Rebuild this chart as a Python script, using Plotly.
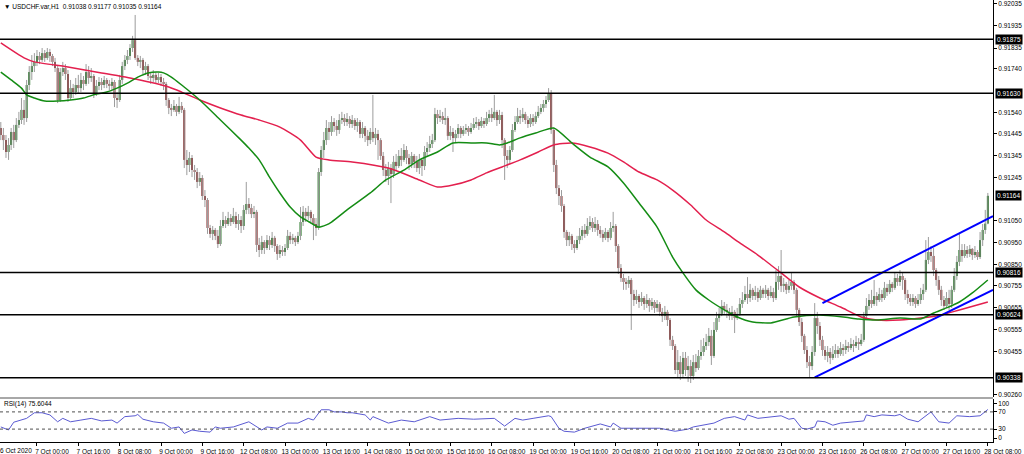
import plotly.graph_objects as go

POINT = 0.00001  # prices below are in MT4 points (1 point = 0.00001)

# ---------------- USDCHF H1 candles (bar 0 = 6 Oct 10:00, bar 382 = 28 Oct 08:00) ----------------
first_open_pts = 91472
close_pts = [
    91440, 91417, 91363, 91395, 91454, 91417, 91486, 91508, 91554, 91517,
    91667, 91726, 91753, 91772, 91799, 91781, 91812, 91790, 91817, 91799,
    91772, 91744, 91599, 91726, 91744, 91717, 91608, 91653, 91635, 91667,
    91653, 91690, 91672, 91726, 91699, 91708, 91626, 91663, 91681, 91667,
    91690, 91672, 91663, 91681, 91608, 91599, 91690, 91753, 91781, 91799,
    91835, 91871, 91790, 91772, 91781, 91735, 91753, 91708, 91699, 91713,
    91690, 91703, 91681, 91672, 91599, 91563, 91554, 91572, 91545, 91572,
    91554, 91327, 91304, 91336, 91281, 91272, 91227, 91245, 91163, 91145,
    91018, 90991, 91009, 90982, 90945, 91027, 91054, 91036, 91063, 91045,
    91072, 91036, 91054, 91027, 91100, 91127, 91109, 91081, 91091, 90941,
    90918, 90954, 90927, 90963, 90941, 90973, 90936, 90900, 90918, 90909,
    90927, 90982, 90963, 90973, 90954, 90982, 91045, 91091, 91072, 91091,
    91063, 91036, 91018, 91272, 91372, 91417, 91472, 91454, 91499, 91481,
    91463, 91508, 91517, 91499, 91513, 91490, 91508, 91481, 91499, 91445,
    91472, 91436, 91417, 91454, 91426, 91445, 91417, 91345, 91281, 91254,
    91290, 91263, 91318, 91299, 91345, 91327, 91372, 91336, 91308, 91345,
    91318, 91290, 91327, 91299, 91363, 91381, 91399, 91417, 91535, 91517,
    91526, 91508, 91517, 91436, 91454, 91426, 91445, 91472, 91445, 91463,
    91472, 91454, 91472, 91490, 91499, 91481, 91504, 91490, 91517, 91535,
    91517, 91545, 91508, 91531, 91417, 91345, 91327, 91372, 91463, 91499,
    91526, 91517, 91535, 91508, 91490, 91517, 91499, 91526, 91545, 91563,
    91581, 91599, 91631, 91463, 91304, 91199, 91163, 91118, 91000, 90963,
    90982, 90945, 90927, 90963, 90982, 91009, 90991, 91027, 91045, 91018,
    91036, 91009, 90991, 90973, 91000, 90973, 91018, 91027, 90936, 90836,
    90791, 90773, 90764, 90782, 90718, 90691, 90709, 90682, 90700, 90673,
    90691, 90664, 90682, 90655, 90673, 90637, 90618, 90637, 90600, 90510,
    90482, 90373, 90409, 90355, 90428, 90373, 90391, 90346, 90409, 90382,
    90437, 90455, 90482, 90500, 90528, 90437, 90555, 90609, 90628, 90664,
    90646, 90637, 90618, 90637, 90609, 90628, 90673, 90691, 90718, 90700,
    90737, 90709, 90727, 90700, 90737, 90718, 90737, 90709, 90727, 90700,
    90773, 90800, 90755, 90764, 90737, 90755, 90773, 90737, 90646, 90591,
    90528, 90464, 90409, 90391, 90455, 90609, 90573, 90510, 90464, 90437,
    90455, 90428, 90446, 90464, 90446, 90473, 90464, 90482, 90473, 90491,
    90482, 90500, 90491, 90510, 90618, 90664, 90691, 90673, 90709, 90691,
    90718, 90700, 90746, 90727, 90764, 90746, 90791, 90773, 90800, 90782,
    90718, 90700, 90682, 90700, 90673, 90691, 90718, 90737, 90873, 90909,
    90891, 90827, 90782, 90737, 90691, 90664, 90700, 90673, 90737, 90800,
    90864, 90918, 90891, 90918, 90900, 90923, 90895, 90909, 90886, 90963,
    91009, 91038, 91164,
]
high_pts = [
    91499, 91472, 91440, 91426, 91472, 91486, 91517, 91545, 91608, 91599,
    91690, 91753, 91803, 91812, 91826, 91817, 91835, 91826, 91835, 91831,
    91808, 91790, 91758, 91744, 91772, 91762, 91735, 91690, 91672, 91699,
    91713, 91722, 91708, 91762, 91753, 91744, 91717, 91690, 91703, 91699,
    91708, 91699, 91690, 91699, 91690, 91635, 91713, 91772, 91803, 91826,
    91853, 91890, 91985, 91803, 91799, 91790, 91772, 91762, 91726, 91735,
    91726, 91722, 91717, 91699, 91681, 91608, 91581, 91599, 91581, 91613,
    91590, 91563, 91372, 91363, 91349, 91304, 91290, 91272, 91258, 91190,
    91154, 91032, 91027, 91018, 91009, 91054, 91091, 91072, 91091, 91081,
    91109, 91091, 91081, 91072, 91122, 91227, 91154, 91127, 91118, 91100,
    90973, 90982, 90963, 90986, 90982, 91000, 90982, 90945, 90941, 90936,
    90945, 91009, 91000, 90991, 90982, 91000, 91113, 91118, 91109, 91118,
    91100, 91081, 91063, 91290, 91390, 91454, 91508, 91499, 91526, 91517,
    91508, 91535, 91545, 91535, 91540, 91526, 91531, 91517, 91517, 91508,
    91499, 91481, 91463, 91472, 91622, 91472, 91463, 91426, 91363, 91308,
    91318, 91308, 91345, 91354, 91372, 91381, 91399, 91390, 91354, 91363,
    91354, 91345, 91354, 91336, 91390, 91408, 91436, 91445, 91563, 91554,
    91554, 91545, 91563, 91526, 91481, 91472, 91463, 91490, 91481, 91481,
    91490, 91481, 91495, 91517, 91522, 91513, 91522, 91517, 91545, 91554,
    91563, 91622, 91554, 91554, 91545, 91426, 91372, 91390, 91490, 91526,
    91563, 91554, 91563, 91545, 91526, 91535, 91535, 91545, 91572, 91581,
    91599, 91617, 91653, 91644, 91472, 91327, 91213, 91190, 91127, 91009,
    91000, 90991, 90963, 90982, 91018, 91027, 91036, 91063, 91072, 91063,
    91068, 91054, 91027, 91009, 91018, 91009, 91045, 91091, 91036, 90945,
    90854, 90809, 90791, 90800, 90791, 90737, 90737, 90718, 90727, 90709,
    90718, 90700, 90700, 90691, 90691, 90682, 90655, 90664, 90646, 90609,
    90528, 90491, 90464, 90437, 90455, 90455, 90437, 90419, 90441, 90446,
    90464, 90510, 90518, 90537, 90564, 90555, 90591, 90637, 90655, 90691,
    90682, 90673, 90655, 90664, 90646, 90655, 90700, 90727, 90755, 90795,
    90764, 90746, 90755, 90746, 90755, 90746, 90759, 90746, 90755, 90746,
    90827, 90845, 90918, 90791, 90773, 90782, 90814, 90782, 90746, 90655,
    90609, 90537, 90482, 90437, 90482, 90677, 90637, 90591, 90528, 90482,
    90482, 90473, 90482, 90491, 90482, 90500, 90491, 90510, 90500, 90518,
    90510, 90528, 90518, 90537, 90637, 90700, 90718, 90737, 90782, 90727,
    90746, 90737, 90773, 90764, 90782, 90773, 90818, 90809, 90827, 90818,
    90791, 90737, 90718, 90718, 90709, 90718, 90746, 90764, 90963, 90977,
    90936, 90927, 90836, 90800, 90755, 90709, 90727, 90737, 90755, 90836,
    90891, 90995, 90945, 90945, 90936, 90941, 90927, 90936, 90918, 91000,
    91036, 91100, 91177,
]
low_pts = [
    91417, 91372, 91336, 91327, 91372, 91381, 91408, 91472, 91490, 91486,
    91499, 91644, 91690, 91726, 91753, 91762, 91772, 91772, 91781, 91772,
    91753, 91726, 91585, 91590, 91708, 91690, 91590, 91599, 91608, 91622,
    91631, 91635, 91644, 91663, 91672, 91681, 91608, 91617, 91644, 91644,
    91653, 91653, 91644, 91644, 91567, 91563, 91590, 91672, 91735, 91762,
    91781, 91817, 91781, 91753, 91744, 91717, 91713, 91690, 91672, 91681,
    91672, 91676, 91663, 91644, 91572, 91535, 91526, 91545, 91526, 91535,
    91540, 91290, 91258, 91272, 91249, 91236, 91199, 91209, 91145, 91113,
    90991, 90973, 90963, 90963, 90927, 90936, 91018, 91018, 91027, 91027,
    91036, 91018, 91009, 90995, 91009, 91081, 91081, 91063, 91063, 90909,
    90886, 90900, 90900, 90918, 90918, 90927, 90909, 90873, 90882, 90891,
    90891, 90918, 90945, 90945, 90936, 90945, 90963, 91027, 91045, 91054,
    91036, 90963, 90982, 91009, 91254, 91336, 91395, 91417, 91436, 91454,
    91436, 91445, 91490, 91481, 91481, 91472, 91472, 91463, 91454, 91426,
    91426, 91408, 91390, 91399, 91408, 91395, 91327, 91327, 91254, 91227,
    91213, 91131, 91245, 91281, 91290, 91299, 91318, 91308, 91281, 91290,
    91290, 91272, 91263, 91254, 91281, 91345, 91363, 91381, 91408, 91490,
    91499, 91490, 91486, 91417, 91417, 91363, 91408, 91426, 91426, 91436,
    91445, 91436, 91445, 91463, 91472, 91463, 91472, 91472, 91481, 91499,
    91499, 91508, 91481, 91490, 91381, 91236, 91290, 91308, 91363, 91454,
    91490, 91490, 91499, 91490, 91472, 91476, 91481, 91490, 91517, 91535,
    91545, 91563, 91590, 91445, 91272, 91172, 91122, 91091, 90973, 90936,
    90936, 90918, 90904, 90918, 90945, 90963, 90973, 90982, 91009, 91000,
    91000, 90982, 90973, 90954, 90963, 90954, 90963, 91000, 90909, 90809,
    90773, 90737, 90737, 90746, 90555, 90664, 90673, 90655, 90664, 90646,
    90655, 90637, 90646, 90632, 90637, 90618, 90591, 90600, 90573, 90482,
    90464, 90355, 90337, 90328, 90337, 90346, 90319, 90314, 90328, 90364,
    90373, 90419, 90437, 90464, 90482, 90396, 90428, 90546, 90591, 90618,
    90628, 90609, 90600, 90600, 90541, 90600, 90618, 90655, 90682, 90673,
    90682, 90691, 90691, 90682, 90691, 90700, 90700, 90691, 90700, 90682,
    90691, 90737, 90727, 90727, 90718, 90723, 90737, 90718, 90618, 90573,
    90500, 90446, 90382, 90341, 90373, 90437, 90537, 90482, 90437, 90419,
    90409, 90400, 90419, 90428, 90428, 90437, 90437, 90446, 90455, 90464,
    90455, 90473, 90464, 90482, 90500, 90609, 90646, 90655, 90664, 90664,
    90682, 90682, 90691, 90709, 90718, 90727, 90737, 90755, 90755, 90737,
    90691, 90673, 90664, 90664, 90655, 90664, 90673, 90691, 90727, 90854,
    90864, 90800, 90755, 90714, 90664, 90646, 90655, 90646, 90655, 90727,
    90782, 90845, 90864, 90882, 90882, 90886, 90873, 90882, 90873, 90877,
    90936, 90991, 91035,
]

# moving averages: (bar index, price)
ma_green_points = [
    (0, 0.91726), (4, 0.91690), (8, 0.91653), (10, 0.91622), (13, 0.91608), (17, 0.91594),
    (22, 0.91594), (27, 0.91599), (32, 0.91608), (37, 0.91626), (41, 0.91635), (45, 0.91653),
    (49, 0.91676), (53, 0.91703), (57, 0.91722), (61, 0.91726), (63, 0.91722), (66, 0.91703),
    (70, 0.91667), (77, 0.91599), (85, 0.91508), (93, 0.91417), (96, 0.91381), (100, 0.91327),
    (104, 0.91249), (108, 0.91177), (112, 0.91113), (116, 0.91068), (120, 0.91041), (123, 0.91022),
    (126, 0.91032), (128, 0.91045), (134, 0.91100), (143, 0.91177), (149, 0.91236), (156, 0.91281),
    (162, 0.91327), (169, 0.91363), (175, 0.91404), (182, 0.91404), (188, 0.91404), (193, 0.91395),
    (196, 0.91404), (201, 0.91427), (207, 0.91449), (214, 0.91472), (221, 0.91404), (228, 0.91340),
    (235, 0.91295), (241, 0.91222), (247, 0.91131), (254, 0.91022), (260, 0.90886), (264, 0.90814),
    (269, 0.90737), (274, 0.90691), (280, 0.90646), (285, 0.90614), (291, 0.90591), (298, 0.90587),
    (307, 0.90614), (317, 0.90623), (326, 0.90614), (332, 0.90605), (339, 0.90600), (348, 0.90609),
    (356, 0.90605), (361, 0.90632), (366, 0.90655), (371, 0.90682), (376, 0.90723), (382, 0.90782),
]
ma_red_points = [
    (0, 0.91858), (9, 0.91790), (13, 0.91772), (26, 0.91749), (39, 0.91722), (52, 0.91694),
    (65, 0.91658), (70, 0.91635), (77, 0.91599), (85, 0.91563), (93, 0.91531), (100, 0.91508),
    (108, 0.91476), (116, 0.91417), (122, 0.91340), (127, 0.91327), (136, 0.91318), (150, 0.91290),
    (162, 0.91236), (169, 0.91204), (175, 0.91213), (182, 0.91236), (188, 0.91268), (194, 0.91295),
    (201, 0.91327), (208, 0.91363), (214, 0.91395), (221, 0.91404), (228, 0.91386), (235, 0.91358),
    (241, 0.91318), (247, 0.91272), (254, 0.91236), (260, 0.91190), (267, 0.91122), (273, 0.91054),
    (280, 0.91000), (286, 0.90950), (293, 0.90895), (298, 0.90850), (302, 0.90814), (309, 0.90750),
    (317, 0.90700), (325, 0.90659), (333, 0.90614), (339, 0.90600), (348, 0.90600), (356, 0.90609),
    (364, 0.90623), (371, 0.90646), (382, 0.90682),
]

# RSI(14) readings: (bar index, value)
rsi_points = [
    (0, 35), (3, 28), (5, 46), (8, 51), (10, 55), (13, 68), (16, 68), (19, 63), (22, 47), (24, 55),
    (27, 47), (31, 51), (35, 55), (39, 49), (43, 51), (45, 44), (48, 59), (52, 61), (53, 64), (55, 53),
    (59, 47), (63, 44), (66, 32), (69, 35), (71, 20), (74, 28), (77, 25), (81, 23), (83, 35), (85, 32),
    (90, 35), (96, 47), (98, 39), (101, 28), (103, 35), (107, 32), (111, 44), (115, 44), (119, 55),
    (121, 51), (124, 75), (127, 75), (129, 70), (132, 70), (134, 68), (136, 68), (141, 63), (143, 51),
    (144, 59), (150, 44), (155, 51), (160, 47), (166, 59), (170, 51), (177, 55), (183, 53), (191, 55),
    (195, 37), (199, 55), (202, 51), (206, 55), (212, 61), (213, 59), (216, 32), (218, 25), (222, 23),
    (226, 32), (232, 42), (236, 35), (237, 44), (240, 32), (245, 32), (250, 32), (255, 32), (261, 25),
    (266, 30), (268, 35), (272, 39), (276, 44), (280, 55), (284, 59), (288, 51), (289, 63), (293, 55),
    (298, 59), (302, 61), (305, 53), (307, 55), (310, 32), (312, 30), (315, 35), (316, 49), (319, 47),
    (322, 39), (325, 44), (330, 47), (334, 49), (335, 63), (338, 59), (341, 63), (346, 61), (348, 64),
    (351, 53), (355, 47), (360, 70), (363, 47), (367, 44), (370, 61), (375, 59), (379, 61), (382, 75.6044),
]

# horizontal support / resistance levels and rising channel
level_prices = [0.91875, 0.91630, 0.90816, 0.90624, 0.90338]
last_price = 0.91164
channel_upper = [(318, 0.90677), (384, 0.91072)]
channel_lower = [(315, 0.90340), (384, 0.90737)]

price_ticks = [0.92035, 0.91935, 0.91835, 0.91740, 0.91540, 0.91445, 0.91345, 0.91245,
               0.91050, 0.90950, 0.90850, 0.90755, 0.90655, 0.90555, 0.90455, 0.90260]
first_time_label = "6 Oct 2020"
time_tick_bars = [14, 30, 46, 62, 78, 94, 110, 126, 142, 158, 174, 190, 206, 222, 238,
                  254, 270, 286, 302, 318, 334, 350, 366, 382]
time_tick_text = ["7 Oct 00:00", "7 Oct 16:00", "8 Oct 08:00", "9 Oct 00:00",
                  "9 Oct 16:00", "12 Oct 08:00", "13 Oct 00:00", "13 Oct 16:00", "14 Oct 08:00",
                  "15 Oct 00:00", "15 Oct 16:00", "16 Oct 08:00", "19 Oct 00:00", "19 Oct 16:00",
                  "20 Oct 08:00", "21 Oct 00:00", "21 Oct 16:00", "22 Oct 08:00", "23 Oct 00:00",
                  "23 Oct 16:00", "26 Oct 08:00", "27 Oct 00:00", "27 Oct 16:00", "28 Oct 08:00"]

# ---------------- build ----------------
n = min(len(close_pts), len(high_pts), len(low_pts))
closes = [c * POINT for c in close_pts[:n]]
opens = [first_open_pts * POINT] + closes[:-1]
highs = [max(h * POINT, o, c) for h, o, c in zip(high_pts[:n], opens, closes)]
lows = [min(l * POINT, o, c) for l, o, c in zip(low_pts[:n], opens, closes)]
bars = list(range(n))

FONT = "Liberation Sans, Arial, sans-serif"
fig = go.Figure()

# wicks
wx, wy = [], []
for i in bars:
    wx += [i, i, None]
    wy += [lows[i], highs[i], None]
fig.add_trace(go.Scatter(x=wx, y=wy, mode="lines", line=dict(color="#9c9c9c", width=1),
                         hoverinfo="skip", showlegend=False))

# bodies
bull = [i for i in bars if closes[i] > opens[i]]
bear = [i for i in bars if closes[i] <= opens[i]]
fig.add_trace(go.Bar(x=bull, base=[opens[i] for i in bull],
                     y=[closes[i] - opens[i] for i in bull], width=0.75,
                     marker=dict(color="#0b650b", line=dict(width=0)), showlegend=False))
fig.add_trace(go.Bar(x=bear, base=[closes[i] for i in bear],
                     y=[max(opens[i] - closes[i], 0.000015) for i in bear], width=0.75,
                     marker=dict(color="#7d1414", line=dict(width=0)), showlegend=False))

# moving averages
fig.add_trace(go.Scatter(x=[p[0] for p in ma_red_points], y=[p[1] for p in ma_red_points],
                         mode="lines", line=dict(color="#e3204e", width=1.5, shape="spline", smoothing=0.6),
                         showlegend=False))
fig.add_trace(go.Scatter(x=[p[0] for p in ma_green_points], y=[p[1] for p in ma_green_points],
                         mode="lines", line=dict(color="#148c14", width=1.5, shape="spline", smoothing=0.6),
                         showlegend=False))

# channel
for ch in (channel_upper, channel_lower):
    fig.add_trace(go.Scatter(x=[p[0] for p in ch], y=[p[1] for p in ch], mode="lines",
                             line=dict(color="#0000ff", width=2), showlegend=False))

# RSI
fig.add_trace(go.Scatter(x=[p[0] for p in rsi_points], y=[p[1] for p in rsi_points],
                         mode="lines", line=dict(color="#5a5ad2", width=1), yaxis="y2",
                         showlegend=False))

H = 454
PLOT_H = 442
main_bottom = (PLOT_H - 397) / PLOT_H
rsi_top = (PLOT_H - 399) / PLOT_H

shapes = []
for lv in level_prices:
    shapes.append(dict(type="line", xref="paper", x0=0, x1=1, yref="y", y0=lv, y1=lv,
                       line=dict(color="#000000", width=1.5)))
for lv in (70, 30):
    shapes.append(dict(type="line", xref="paper", x0=0, x1=1, yref="y2", y0=lv, y1=lv,
                       line=dict(color="#505050", width=1, dash="dot")))
shapes.append(dict(type="line", xref="paper", x0=0, x1=1, yref="paper",
                   y0=(main_bottom + rsi_top) / 2, y1=(main_bottom + rsi_top) / 2,
                   line=dict(color="#a8a8a8", width=2)))

annotations = [
    dict(text="\u25bc USDCHF.var,H1  0.91038 0.91177 0.91035 0.91164", xref="paper", yref="paper",
         x=0.002, y=1, xanchor="left", yanchor="top", yshift=-1, showarrow=False,
         font=dict(family=FONT, size=6.5, color="#000000")),
    dict(text="RSI(14) 75.6044", xref="paper", yref="y2", x=0.002, y=88, xanchor="left",
         yanchor="middle", showarrow=False, font=dict(family=FONT, size=6.5, color="#000000")),
    dict(text=first_time_label, xref="paper", yref="paper", x=0, y=0, xanchor="left",
         yanchor="top", xshift=-2, yshift=-3, showarrow=False,
         font=dict(family=FONT, size=6.5, color="#000000")),
]
for lv in level_prices + [last_price]:
    annotations.append(dict(text="%.5f" % lv, xref="paper", yref="y", x=1, y=lv, xanchor="left",
                            yanchor="middle", xshift=2, showarrow=False, bgcolor="#000000",
                            borderpad=1, font=dict(family=FONT, size=6.5, color="#ffffff")))

fig.update_layout(
    width=1024, height=H,
    margin=dict(l=0, r=31, t=0, b=H - PLOT_H),
    paper_bgcolor="#ffffff", plot_bgcolor="#ffffff",
    barmode="overlay", hovermode=False, showlegend=False,
    font=dict(family=FONT, size=6.5, color="#000000"),
    xaxis=dict(domain=[0, 1], anchor="y2", range=[-0.31, 384.0], showgrid=False, zeroline=False,
               tickmode="array", tickvals=time_tick_bars, ticktext=time_tick_text,
               ticks="outside", ticklen=3, tickcolor="#000000", ticklabelshift=15,
               tickfont=dict(family=FONT, size=6.5), showline=True, linecolor="#000000",
               linewidth=1),
    yaxis=dict(domain=[main_bottom, 1], side="right", range=[0.902506, 0.92053],
               showgrid=False, zeroline=False, tickmode="array", tickvals=price_ticks,
               ticktext=["%.5f" % v for v in price_ticks], ticks="outside", ticklen=3,
               tickcolor="#000000", tickfont=dict(family=FONT, size=6.5), showline=True,
               linecolor="#000000", linewidth=1, anchor="x"),
    yaxis2=dict(domain=[0, rsi_top], side="right", range=[0, 100], showgrid=False,
                zeroline=False, tickmode="array", tickvals=[90, 70, 30, 9],
                ticktext=["100", "70", "30", "0"], ticks="outside", ticklen=3,
                tickcolor="#000000", tickfont=dict(family=FONT, size=6.5), showline=True,
                linecolor="#000000", linewidth=1, anchor="x"),
    shapes=shapes, annotations=annotations,
)

fig.write_html("out.html", config={"displayModeBar": False, "staticPlot": True},
               post_script="document.body.style.margin='0';document.body.style.overflow='hidden';")
